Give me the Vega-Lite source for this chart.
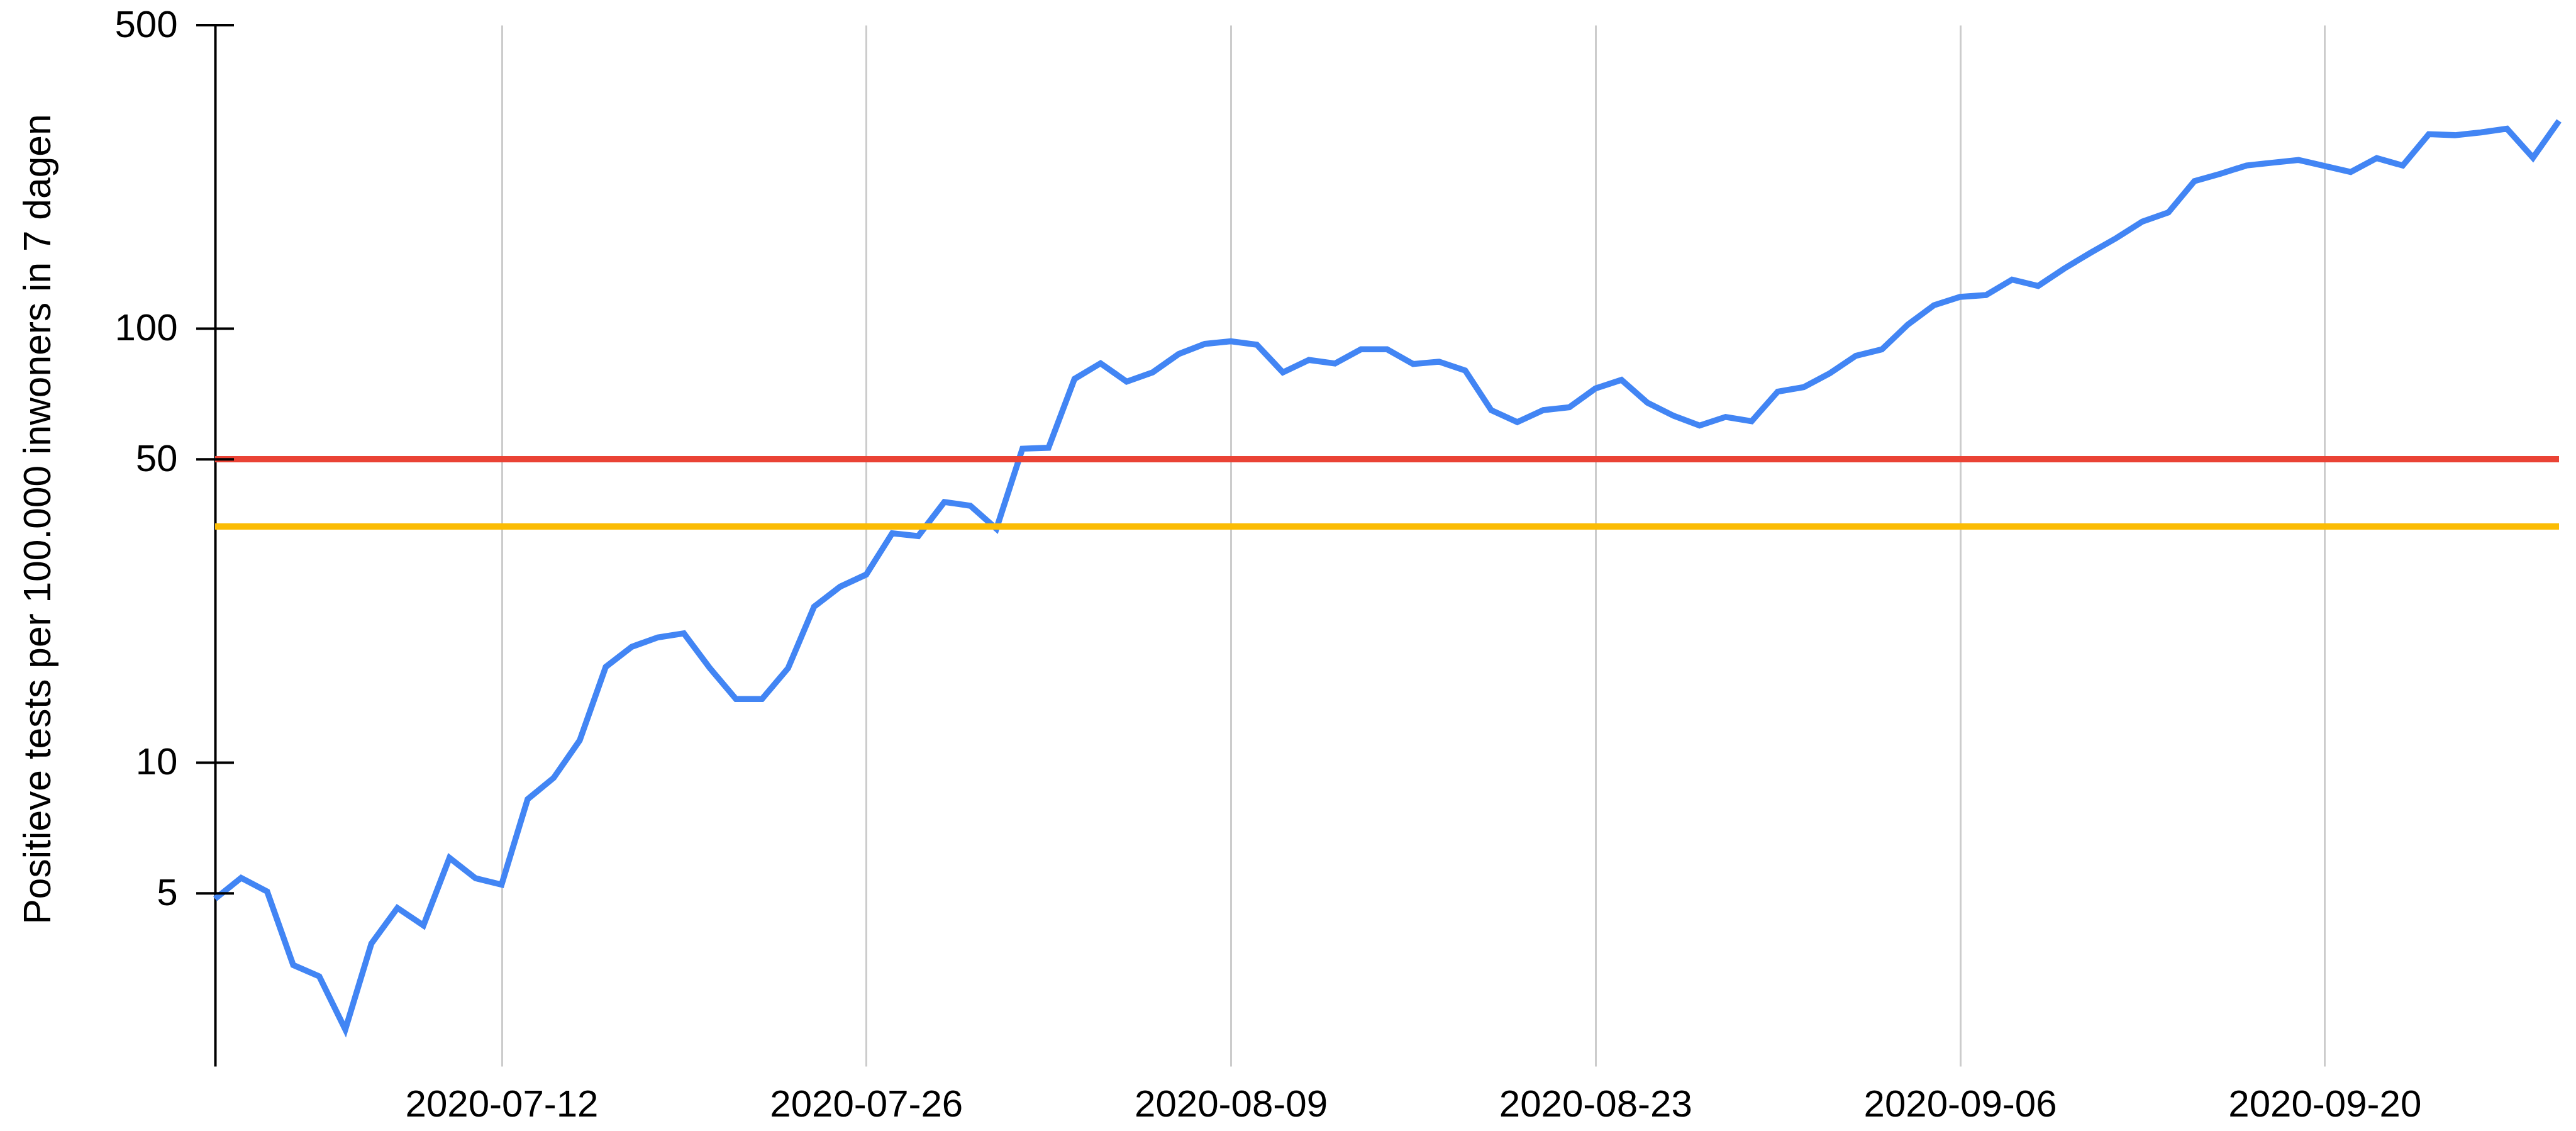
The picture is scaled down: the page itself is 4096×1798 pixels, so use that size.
{
  "$schema": "https://vega.github.io/schema/vega-lite/v6.json",
  "width": 3727,
  "height": 1655,
  "autosize": {"type": "none"},
  "padding": {"left": 342, "top": 40, "right": 27, "bottom": 103},
  "background": "white",
  "config": {"view": {"stroke": null}, "font": "Liberation Sans"},
  "data": {
    "values": [
      {"date": "2020-07-01", "value": 4.86},
      {"date": "2020-07-02", "value": 5.43},
      {"date": "2020-07-03", "value": 5.05},
      {"date": "2020-07-04", "value": 3.42},
      {"date": "2020-07-05", "value": 3.22},
      {"date": "2020-07-06", "value": 2.43},
      {"date": "2020-07-07", "value": 3.83},
      {"date": "2020-07-08", "value": 4.63},
      {"date": "2020-07-09", "value": 4.22},
      {"date": "2020-07-10", "value": 6.04},
      {"date": "2020-07-11", "value": 5.42},
      {"date": "2020-07-12", "value": 5.24},
      {"date": "2020-07-13", "value": 8.24},
      {"date": "2020-07-14", "value": 9.23},
      {"date": "2020-07-15", "value": 11.26},
      {"date": "2020-07-16", "value": 16.63},
      {"date": "2020-07-17", "value": 18.5},
      {"date": "2020-07-18", "value": 19.44},
      {"date": "2020-07-19", "value": 19.86},
      {"date": "2020-07-20", "value": 16.51},
      {"date": "2020-07-21", "value": 14.02},
      {"date": "2020-07-22", "value": 14.02},
      {"date": "2020-07-23", "value": 16.51},
      {"date": "2020-07-24", "value": 22.88},
      {"date": "2020-07-25", "value": 25.44},
      {"date": "2020-07-26", "value": 27.13},
      {"date": "2020-07-27", "value": 33.78},
      {"date": "2020-07-28", "value": 33.28},
      {"date": "2020-07-29", "value": 39.86},
      {"date": "2020-07-30", "value": 39.09},
      {"date": "2020-07-31", "value": 34.6},
      {"date": "2020-08-01", "value": 52.9},
      {"date": "2020-08-02", "value": 53.15},
      {"date": "2020-08-03", "value": 76.6},
      {"date": "2020-08-04", "value": 83.2},
      {"date": "2020-08-05", "value": 75.5},
      {"date": "2020-08-06", "value": 79.3},
      {"date": "2020-08-07", "value": 87.4},
      {"date": "2020-08-08", "value": 92.2},
      {"date": "2020-08-09", "value": 93.5},
      {"date": "2020-08-10", "value": 91.8},
      {"date": "2020-08-11", "value": 79.3},
      {"date": "2020-08-12", "value": 84.7},
      {"date": "2020-08-13", "value": 83.1},
      {"date": "2020-08-14", "value": 89.6},
      {"date": "2020-08-15", "value": 89.6},
      {"date": "2020-08-16", "value": 82.9},
      {"date": "2020-08-17", "value": 83.9},
      {"date": "2020-08-18", "value": 80.1},
      {"date": "2020-08-19", "value": 64.9},
      {"date": "2020-08-20", "value": 60.9},
      {"date": "2020-08-21", "value": 64.9},
      {"date": "2020-08-22", "value": 65.9},
      {"date": "2020-08-23", "value": 72.8},
      {"date": "2020-08-24", "value": 76.2},
      {"date": "2020-08-25", "value": 67.5},
      {"date": "2020-08-26", "value": 63.0},
      {"date": "2020-08-27", "value": 59.8},
      {"date": "2020-08-28", "value": 62.6},
      {"date": "2020-08-29", "value": 61.2},
      {"date": "2020-08-30", "value": 71.6},
      {"date": "2020-08-31", "value": 73.3},
      {"date": "2020-09-01", "value": 78.9},
      {"date": "2020-09-02", "value": 86.6},
      {"date": "2020-09-03", "value": 89.6},
      {"date": "2020-09-04", "value": 102.2},
      {"date": "2020-09-05", "value": 113.2},
      {"date": "2020-09-06", "value": 118.3},
      {"date": "2020-09-07", "value": 119.5},
      {"date": "2020-09-08", "value": 129.7},
      {"date": "2020-09-09", "value": 125.4},
      {"date": "2020-09-10", "value": 137.5},
      {"date": "2020-09-11", "value": 149.4},
      {"date": "2020-09-12", "value": 161.6},
      {"date": "2020-09-13", "value": 176.4},
      {"date": "2020-09-14", "value": 185.2},
      {"date": "2020-09-15", "value": 218.6},
      {"date": "2020-09-16", "value": 227.3},
      {"date": "2020-09-17", "value": 237.5},
      {"date": "2020-09-18", "value": 241.1},
      {"date": "2020-09-19", "value": 244.6},
      {"date": "2020-09-20", "value": 237.0},
      {"date": "2020-09-21", "value": 229.5},
      {"date": "2020-09-22", "value": 247.0},
      {"date": "2020-09-23", "value": 237.5},
      {"date": "2020-09-24", "value": 280.4},
      {"date": "2020-09-25", "value": 279.0},
      {"date": "2020-09-26", "value": 283.1},
      {"date": "2020-09-27", "value": 288.7},
      {"date": "2020-09-28", "value": 247.5},
      {"date": "2020-09-29", "value": 301}
    ]
  },
  "layer": [
    {
      "mark": {"type": "line", "color": "#4285F4", "strokeWidth": 9.5, "strokeJoin": "miter"},
      "encoding": {
        "x": {
          "field": "date",
          "type": "temporal",
          "scale": {
            "type": "utc",
            "nice": false,
            "domain": [
              {"year": 2020, "month": 7, "date": 1, "utc": true},
              {"year": 2020, "month": 9, "date": 29, "utc": true}
            ]
          },
          "axis": {
            "title": null,
            "values": [
              {"year": 2020, "month": 7, "date": 12, "utc": true},
              {"year": 2020, "month": 7, "date": 26, "utc": true},
              {"year": 2020, "month": 8, "date": 9, "utc": true},
              {"year": 2020, "month": 8, "date": 23, "utc": true},
              {"year": 2020, "month": 9, "date": 6, "utc": true},
              {"year": 2020, "month": 9, "date": 20, "utc": true}
            ],
            "format": "%Y-%m-%d",
            "grid": true,
            "gridColor": "#cccccc",
            "gridWidth": 3,
            "domain": false,
            "ticks": false,
            "tickSize": 0,
            "labelFontSize": 60,
            "labelColor": "#000000",
            "labelPadding": 79,
            "labelBaseline": "alphabetic",
            "labelAlign": "center",
            "labelLimit": 0,
            "labelFlush": false,
            "labelOverlap": false
          }
        },
        "y": {
          "field": "value",
          "type": "quantitative",
          "scale": {"type": "log", "domain": [2, 500], "nice": false},
          "axis": {
            "values": [5, 10, 50, 100, 500],
            "format": "d",
            "grid": false,
            "domainColor": "#000000",
            "domainWidth": 4,
            "ticks": false,
            "tickSize": 0,
            "labelFontSize": 60,
            "labelColor": "#000000",
            "labelPadding": 60,
            "labelLimit": 0,
            "labelFlush": false,
            "labelOverlap": false,
            "title": "Positieve tests per 100.000 inwoners in 7 dagen",
            "titleFontSize": 60.5,
            "titleFontWeight": "normal",
            "titleColor": "#000000",
            "titleAngle": -90,
            "titleX": -263,
            "titleY": 785,
            "titleAlign": "center",
            "titleBaseline": "alphabetic",
            "titleLimit": 0
          }
        }
      }
    },
    {
      "mark": {"type": "rule", "color": "#FBBC04", "strokeWidth": 9.5},
      "encoding": {"y": {"datum": 35}}
    },
    {
      "mark": {"type": "rule", "color": "#EA4335", "strokeWidth": 9.5},
      "encoding": {"y": {"datum": 50}}
    },
    {
      "data": {"values": [{"tick": 5}, {"tick": 10}, {"tick": 50}, {"tick": 100}, {"tick": 500}]},
      "mark": {"type": "tick", "orient": "horizontal", "color": "#000000", "size": 60, "thickness": 4, "opacity": 1},
      "encoding": {
        "x": {"datum": {"year": 2020, "month": 7, "date": 1, "utc": true}, "type": "temporal"},
        "y": {"field": "tick", "type": "quantitative"}
      }
    }
  ]
}
